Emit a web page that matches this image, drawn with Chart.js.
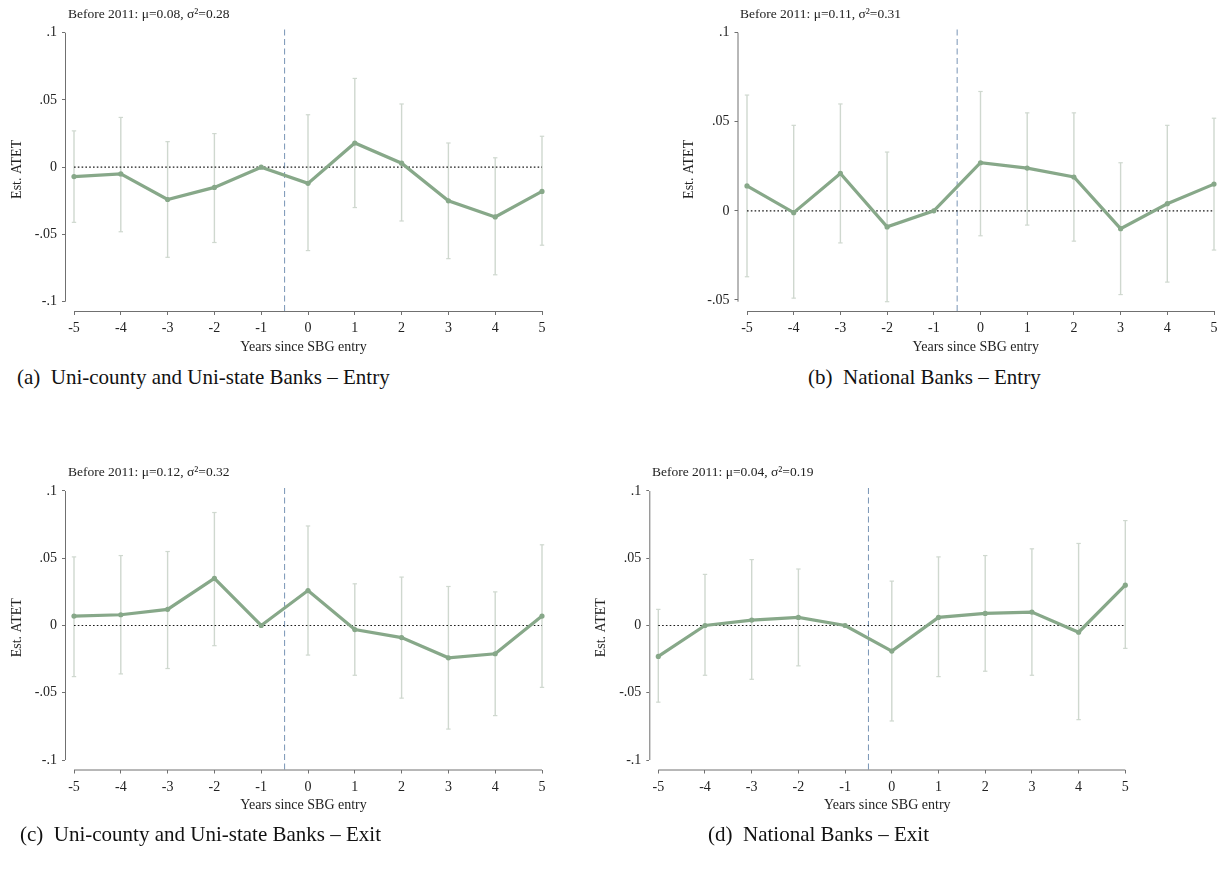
<!DOCTYPE html>
<html>
<head>
<meta charset="utf-8">
<script src="https://cdn.jsdelivr.net/npm/chart.js@4.4.1/dist/chart.umd.min.js"></script>
<style>
  html, body { margin: 0; padding: 0; background: #ffffff; }
  body { width: 1225px; height: 877px; position: relative; overflow: hidden; font-family: "Liberation Serif", "Times New Roman", serif; }
  canvas { position: absolute; }
  .ptitle { position: absolute; font-size: 13.5px; line-height: 14px; color: #222; white-space: nowrap; }
  .cap { position: absolute; font-size: 21px; line-height: 24px; color: #111; white-space: nowrap; }
</style>
</head>
<body>
<canvas id="cA" width="560" height="365" style="left:0px;top:0px;width:560px;height:365px"></canvas>
<canvas id="cB" width="553" height="365" style="left:672px;top:0px;width:553px;height:365px"></canvas>
<canvas id="cC" width="560" height="365" style="left:0px;top:458px;width:560px;height:365px"></canvas>
<canvas id="cD" width="560" height="365" style="left:584px;top:458px;width:560px;height:365px"></canvas>

<div class="ptitle" style="left:68px;top:6.8px">Before 2011: μ=0.08, σ²=0.28</div>
<div class="ptitle" style="left:740px;top:6.8px">Before 2011: μ=0.11, σ²=0.31</div>
<div class="ptitle" style="left:68px;top:465px">Before 2011: μ=0.12, σ²=0.32</div>
<div class="ptitle" style="left:652px;top:465px">Before 2011: μ=0.04, σ²=0.19</div>

<div class="cap" style="left:17px;top:365px">(a)&nbsp; Uni-county and Uni-state Banks – Entry</div>
<div class="cap" style="left:808px;top:365px">(b)&nbsp; National Banks – Entry</div>
<div class="cap" style="left:20px;top:822px">(c)&nbsp; Uni-county and Uni-state Banks – Exit</div>
<div class="cap" style="left:708px;top:822px">(d)&nbsp; National Banks – Exit</div>

<script>
// ---------------- data ----------------
const years = [-5, -4, -3, -2, -1, 0, 1, 2, 3, 4, 5];
const xTickLabels = ['-5', '-4', '-3', '-2', '-1', '0', '1', '2', '3', '4', '5'];
const xAxisTitle = 'Years since SBG entry';
const yAxisTitle = 'Est. ATET';
const entryYear = -0.5;

// (a) Uni-county and Uni-state Banks – Entry
const estA = [-0.007, -0.005, -0.024, -0.015, 0, -0.012, 0.018, 0.003, -0.025, -0.037, -0.018];
const loA  = [-0.041, -0.048, -0.067, -0.056, null, -0.062, -0.030, -0.040, -0.068, -0.080, -0.058];
const hiA  = [0.027, 0.037, 0.019, 0.025, null, 0.039, 0.066, 0.047, 0.018, 0.007, 0.023];
const yTicksA = [-0.1, -0.05, 0, 0.05, 0.1];
const yLabelsA = ['-.1', '-.05', '0', '.05', '.1'];

// (b) National Banks – Entry
const estB = [0.014, -0.001, 0.021, -0.009, 0, 0.027, 0.024, 0.019, -0.010, 0.004, 0.015];
const loB  = [-0.037, -0.049, -0.018, -0.051, null, -0.014, -0.008, -0.017, -0.047, -0.040, -0.022];
const hiB  = [0.065, 0.048, 0.060, 0.033, null, 0.067, 0.055, 0.055, 0.027, 0.048, 0.052];
const yTicksB = [-0.05, 0, 0.05, 0.1];
const yLabelsB = ['-.05', '0', '.05', '.1'];

// (c) Uni-county and Uni-state Banks – Exit
const estC = [0.007, 0.008, 0.012, 0.035, 0, 0.026, -0.003, -0.009, -0.024, -0.021, 0.007];
const loC  = [-0.038, -0.036, -0.032, -0.015, null, -0.022, -0.037, -0.054, -0.077, -0.067, -0.046];
const hiC  = [0.051, 0.052, 0.055, 0.084, null, 0.074, 0.031, 0.036, 0.029, 0.025, 0.060];
const yTicksC = [-0.1, -0.05, 0, 0.05, 0.1];
const yLabelsC = ['-.1', '-.05', '0', '.05', '.1'];

// (d) National Banks – Exit
const estD = [-0.023, 0.000, 0.004, 0.006, 0, -0.019, 0.006, 0.009, 0.010, -0.005, 0.030];
const loD  = [-0.057, -0.037, -0.040, -0.030, null, -0.071, -0.038, -0.034, -0.037, -0.070, -0.017];
const hiD  = [0.012, 0.038, 0.049, 0.042, null, 0.033, 0.051, 0.052, 0.057, 0.061, 0.078];
const yTicksD = [-0.1, -0.05, 0, 0.05, 0.1];
const yLabelsD = ['-.1', '-.05', '0', '.05', '.1'];

// ---------------- style ----------------
const LINE_COLOR = '#87a889';
const CI_COLOR = '#cfd8cf';
const VLINE_COLOR = '#7894b5';
const AXIS_COLOR = '#707070';
const TEXT_COLOR = '#222222';
const FONT = "'Liberation Serif', 'Times New Roman', serif";

function panelGeom(canvasLeft, canvasTop, canvasW, canvasH, yAxisX, xFirstPx, xLastPx, hiPx, loPx, axisY, topPx) {
  return {canvasLeft, canvasTop, canvasW, canvasH, yAxisX, xFirstPx, xLastPx, hiPx, loPx, axisY, topPx};
}

const axisLinePlugin = {
  id: 'stataAxes',
  afterDraw(chart, args, opts) {
    const ctx = chart.ctx;
    const xs = chart.scales.x, ys = chart.scales.y;
    const ca = chart.chartArea;
    ctx.save();
    ctx.strokeStyle = AXIS_COLOR;
    ctx.lineWidth = 1;
    ctx.beginPath();
    ctx.moveTo(ca.left + 0.5, ys.getPixelForValue(opts.yRange[1]));
    ctx.lineTo(ca.left + 0.5, ys.getPixelForValue(opts.yRange[0]));
    ctx.moveTo(xs.getPixelForValue(years[0]), ca.bottom + 0.5);
    ctx.lineTo(xs.getPixelForValue(years[years.length - 1]), ca.bottom + 0.5);
    ctx.stroke();
    ctx.restore();
  }
};

function makePanel(canvasId, g, est, lo, hi, yTicks, yLabels) {
  const allVals = est.concat(lo, hi).filter(v => v !== null);
  const rangeLo = Math.min(Math.min(...yTicks), Math.min(...allVals));
  const rangeHi = Math.max(Math.max(...yTicks), Math.max(...allVals));

  const chartLeft = g.yAxisX - g.canvasLeft;
  const chartRight = g.xLastPx - g.canvasLeft;
  const chartTop = g.topPx - g.canvasTop;
  const chartBottom = g.axisY - g.canvasTop;
  const hiPx = g.hiPx - g.canvasTop;
  const loPx = g.loPx - g.canvasTop;
  const perPx = (rangeHi - rangeLo) / (loPx - hiPx);
  const yMax = rangeHi + (hiPx - chartTop) * perPx;
  const yMin = rangeLo - (chartBottom - loPx) * perPx;
  const xPerPx = (years[years.length - 1] - years[0]) / (g.xLastPx - g.xFirstPx);
  const xMin = years[0] - (g.xFirstPx - g.yAxisX) * xPerPx;
  const xMax = years[years.length - 1];

  const datasets = [];
  datasets.push({
    type: 'line',
    data: years.map((x, i) => ({x: x, y: est[i]})),
    borderColor: LINE_COLOR,
    backgroundColor: LINE_COLOR,
    borderWidth: 3.2,
    pointRadius: 2.6,
    pointBorderWidth: 0,
    pointBackgroundColor: LINE_COLOR,
    tension: 0,
    clip: false,
    order: 0
  });
  datasets.push({
    type: 'line',
    data: [{x: years[0], y: 0}, {x: years[years.length - 1], y: 0}],
    borderColor: '#1a1a1a',
    borderWidth: 1.2,
    borderDash: [1.6, 2.2],
    pointRadius: 0,
    clip: false,
    order: 2
  });
  datasets.push({
    type: 'line',
    data: [{x: entryYear, y: yMin}, {x: entryYear, y: yMax}],
    borderColor: VLINE_COLOR,
    borderWidth: 1,
    borderDash: [6, 3.5],
    pointRadius: 0,
    clip: false,
    order: 3
  });
  years.forEach((x, i) => {
    if (lo[i] === null || hi[i] === null) return;
    datasets.push({
      type: 'line',
      data: [{x: x, y: lo[i]}, {x: x, y: hi[i]}],
      borderColor: CI_COLOR,
      borderWidth: 1.4,
      pointStyle: 'line',
      pointRadius: 2.2,
      pointBorderWidth: 1.2,
      pointBorderColor: CI_COLOR,
      pointBackgroundColor: CI_COLOR,
      clip: false,
      order: 4
    });
  });

  const tickFont = {family: FONT, size: 14};
  return new Chart(document.getElementById(canvasId), {
    type: 'line',
    data: {datasets},
    options: {
      responsive: false,
      animation: false,
      devicePixelRatio: 1,
      layout: {padding: {left: 0, top: chartTop, right: g.canvasW - chartRight, bottom: 0}},
      plugins: {
        legend: {display: false},
        tooltip: {enabled: false},
        title: {display: false},
        stataAxes: {yRange: [rangeLo, rangeHi]}
      },
      scales: {
        x: {
          type: 'linear',
          min: xMin,
          max: xMax,
          offset: false,
          afterBuildTicks: s => { s.ticks = years.map(v => ({value: v})); },
          afterFit: s => { s.height = g.canvasH - chartBottom; },
          ticks: {
            callback: (v, i) => xTickLabels[i],
            font: tickFont,
            color: TEXT_COLOR,
            padding: 5,
            maxRotation: 0,
            autoSkip: false
          },
          grid: {display: true, drawOnChartArea: false, drawTicks: true, tickLength: 4, color: AXIS_COLOR, lineWidth: 1},
          border: {display: false},
          title: {display: true, text: xAxisTitle, font: {family: FONT, size: 14}, color: TEXT_COLOR, padding: {top: 0, bottom: g.canvasH - chartBottom - 36 - 8.4}}
        },
        y: {
          type: 'linear',
          min: yMin,
          max: yMax,
          afterBuildTicks: s => { s.ticks = yTicks.map(v => ({value: v})); },
          afterFit: s => { s.width = chartLeft; },
          ticks: {
            callback: (v, i) => yLabels[i],
            font: tickFont,
            color: TEXT_COLOR,
            padding: 5,
            autoSkip: false
          },
          grid: {display: true, drawOnChartArea: false, drawTicks: true, tickLength: 3, color: AXIS_COLOR, lineWidth: 1},
          border: {display: false},
          title: {display: true, text: yAxisTitle, font: {family: FONT, size: 14}, color: TEXT_COLOR, padding: {top: 8.6, bottom: 0}}
        }
      }
    },
    plugins: [axisLinePlugin]
  });
}

const gA = panelGeom(0, 0, 560, 365, 65, 74, 542, 32.7, 301.7, 311, 27.7);
const gB = panelGeom(672, 0, 553, 365, 737.5, 747, 1214, 32.7, 301.7, 311, 27.7);
const gC = panelGeom(0, 458, 560, 365, 65, 74, 542, 491, 760, 769.5, 486);
const gD = panelGeom(584, 458, 560, 365, 649.3, 658.3, 1125.3, 491, 760, 769.5, 486);

makePanel('cA', gA, estA, loA, hiA, yTicksA, yLabelsA);
makePanel('cB', gB, estB, loB, hiB, yTicksB, yLabelsB);
makePanel('cC', gC, estC, loC, hiC, yTicksC, yLabelsC);
makePanel('cD', gD, estD, loD, hiD, yTicksD, yLabelsD);
</script>
</body>
</html>
